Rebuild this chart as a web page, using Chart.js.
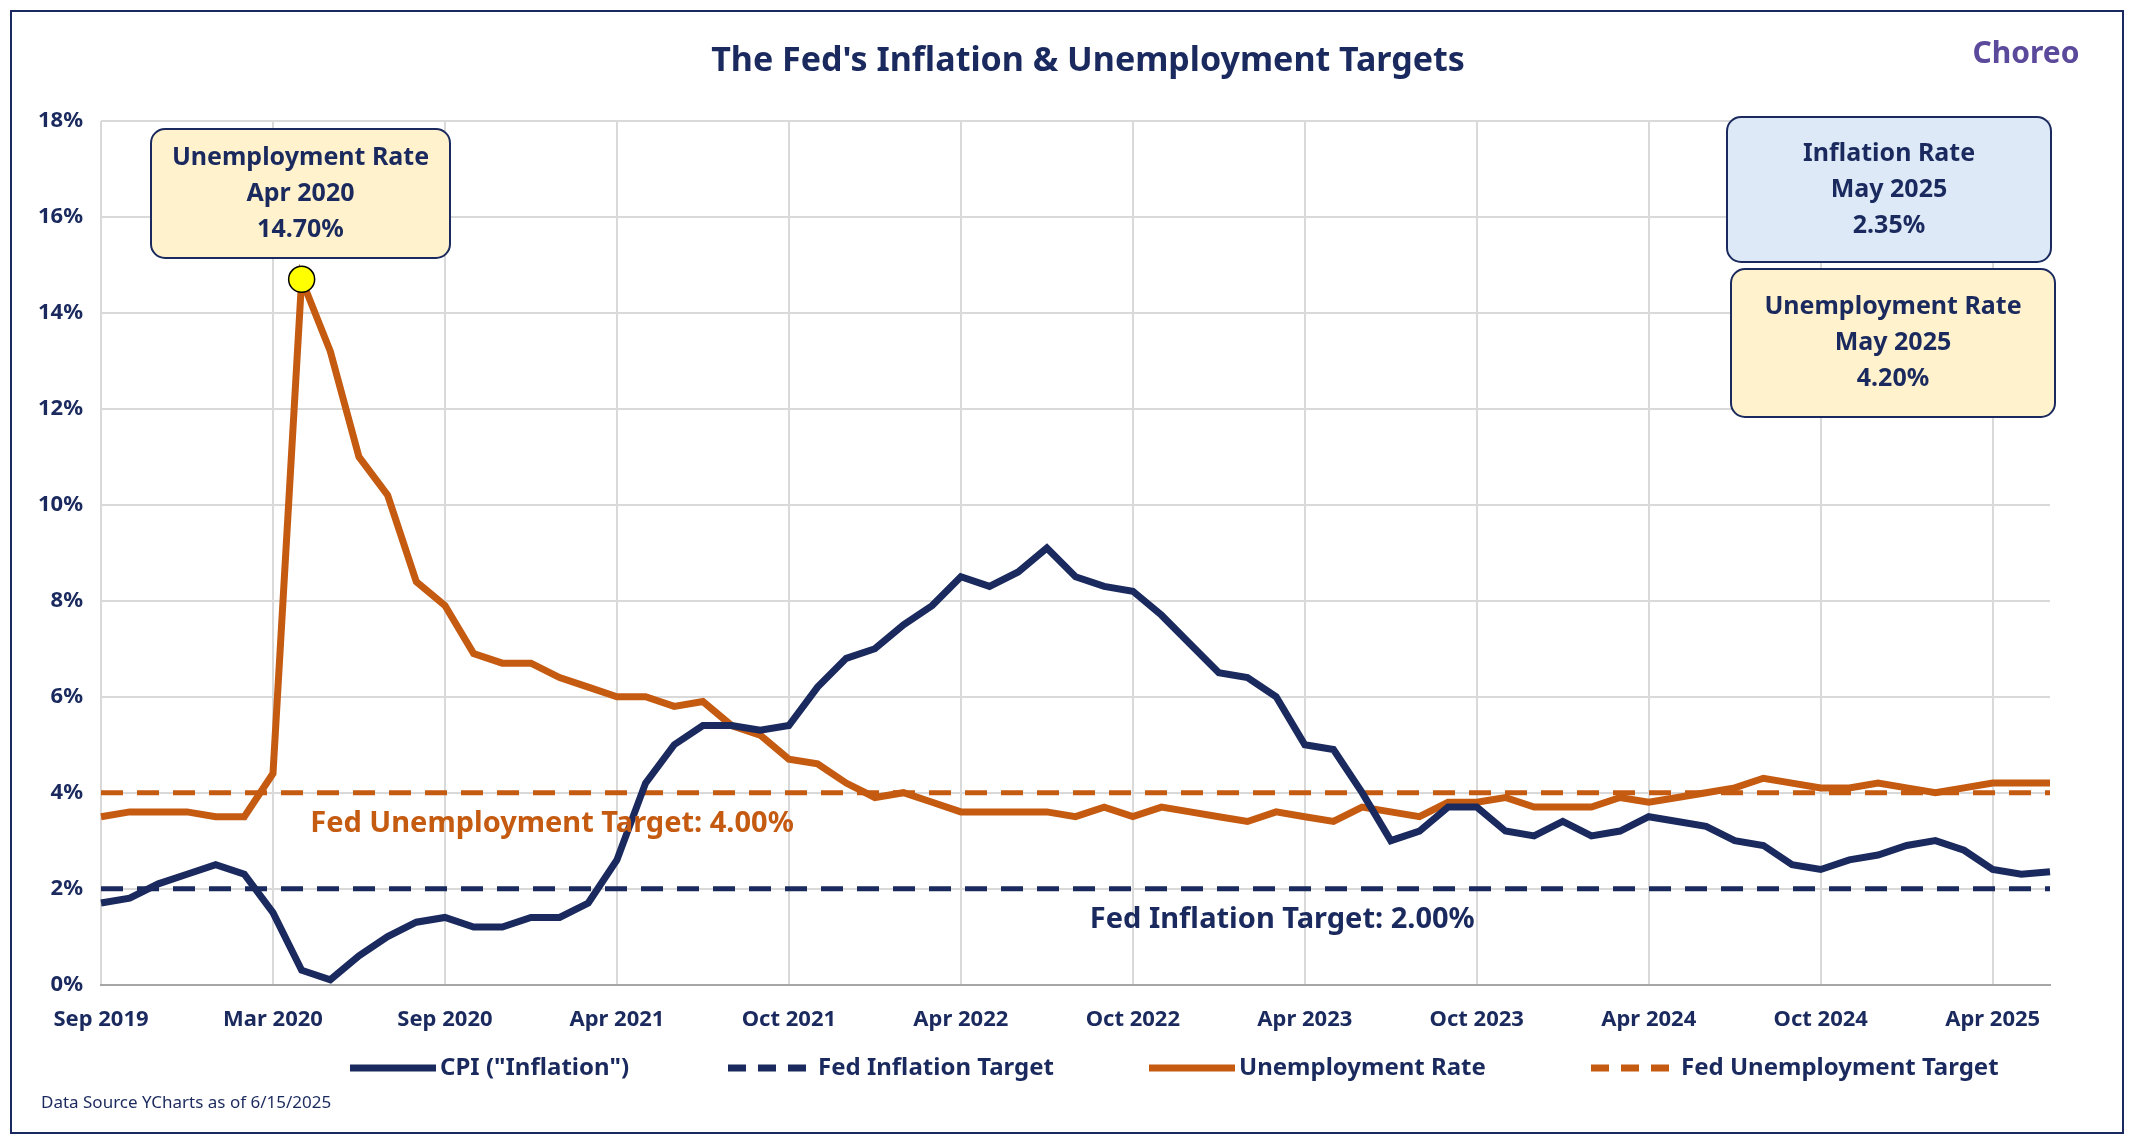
<!DOCTYPE html>
<html lang="en">
<head>
<meta charset="UTF-8">
<title>The Fed's Inflation & Unemployment Targets</title>
<script src="https://cdn.jsdelivr.net/npm/chart.js"></script>
<style>
    html, body { margin: 0; padding: 0; background: #fff; }
    .frame { position: absolute; left: 10px; top: 10px; width: 2110px; height: 1120px; border: 2px solid #1b2a5e; }
    canvas { position: absolute; left: 0; top: 0; }
</style>
</head>
<body>
<div class="frame"></div>
<canvas id="grafico" width="2132" height="1144"></canvas>
<script>
// Monthly, Sep 2019 .. May 2025
const months = [];
const monthNames = ['Jan','Feb','Mar','Apr','May','Jun','Jul','Aug','Sep','Oct','Nov','Dec'];
for (let i = 0; i < 69; i++) {
    const m = (8 + i) % 12, y = 2019 + Math.floor((8 + i) / 12);
    months.push(monthNames[m] + ' ' + y);
}
const tickLabels = ['Sep 2019','Mar 2020','Sep 2020','Apr 2021','Oct 2021','Apr 2022','Oct 2022','Apr 2023','Oct 2023','Apr 2024','Oct 2024','Apr 2025'];

const cpi = [1.7,1.8,2.1,2.3,
    2.5,2.3,1.5,0.3,0.1,0.6,1.0,1.3,1.4,1.2,1.2,1.4,
    1.4,1.7,2.6,4.2,5.0,5.4,5.4,5.3,5.4,6.2,6.8,7.0,
    7.5,7.9,8.5,8.3,8.6,9.1,8.5,8.3,8.2,7.7,7.1,6.5,
    6.4,6.0,5.0,4.9,4.0,3.0,3.2,3.7,3.7,3.2,3.1,3.4,
    3.1,3.2,3.5,3.4,3.3,3.0,2.9,2.5,2.4,2.6,2.7,2.9,
    3.0,2.8,2.4,2.3,2.35];
const unemployment = [3.5,3.6,3.6,3.6,
    3.5,3.5,4.4,14.7,13.2,11.0,10.2,8.4,7.9,6.9,6.7,6.7,
    6.4,6.2,6.0,6.0,5.8,5.9,5.4,5.2,4.7,4.6,4.2,3.9,
    4.0,3.8,3.6,3.6,3.6,3.6,3.5,3.7,3.5,3.7,3.6,3.5,
    3.4,3.6,3.5,3.4,3.7,3.6,3.5,3.8,3.8,3.9,3.7,3.7,
    3.7,3.9,3.8,3.9,4.0,4.1,4.3,4.2,4.1,4.1,4.2,4.1,
    4.0,4.1,4.2,4.2,4.2];
const inflationTarget = months.map(() => 2);
const unemploymentTarget = months.map(() => 4);
const peak = unemployment.map((v, i) => i === 7 ? v : null);

const NAVY = '#1b2a5e';
const ORANGE = '#c55a11';
const FONT = '"Noto Sans", "Open Sans", sans-serif';

// Caixas de texto, legenda e rótulos
const extras = {
    id: 'extras',
    afterDraw(chart) {
        const ctx = chart.ctx;
        const x = chart.scales.x, y = chart.scales.y;
        ctx.save();
        ctx.textAlign = 'center';
        ctx.textBaseline = 'middle';
        ctx.fillStyle = NAVY;
        ctx.font = 'bold 34px ' + FONT;
        ctx.fillText("The Fed's Inflation & Unemployment Targets", 1088, 61);
        ctx.fillStyle = '#5b4a9b';
        ctx.font = 'bold 30px ' + FONT;
        ctx.fillText('Choreo', 2026, 54);

        function box(x0, y0, w, h, fill, lines) {
            ctx.beginPath();
            ctx.roundRect(x0, y0, w, h, 14);
            ctx.fillStyle = fill;
            ctx.fill();
            ctx.lineWidth = 2;
            ctx.strokeStyle = NAVY;
            ctx.stroke();
            ctx.fillStyle = NAVY;
            ctx.font = 'bold 25px ' + FONT;
            const step = 36;
            const cy = y0 + h / 2;
            lines.forEach((t, i) => ctx.fillText(t, x0 + w / 2, cy + (i - 1) * step));
        }
        box(151, 129, 299, 129, '#fff2cc', ['Unemployment Rate', 'Apr 2020', '14.70%']);
        box(1727, 117, 324, 145, '#dde9f6', ['Inflation Rate', 'May 2025', '2.35%']);
        box(1731, 269, 324, 148, '#fff2cc', ['Unemployment Rate', 'May 2025', '4.20%']);

        ctx.font = 'bold 29px ' + FONT;
        ctx.textAlign = 'left';
        ctx.fillStyle = ORANGE;
        ctx.fillText('Fed Unemployment Target: 4.00%', x.getPixelForValue(7.3), y.getPixelForValue(3.35));
        ctx.fillStyle = NAVY;
        ctx.fillText('Fed Inflation Target: 2.00%', x.getPixelForValue(34.5), y.getPixelForValue(1.35));

        // legenda
        const items = [
            { t: 'CPI ("Inflation")', c: NAVY, d: [], x: 350 },
            { t: 'Fed Inflation Target', c: NAVY, d: [18, 12], x: 728 },
            { t: 'Unemployment Rate', c: ORANGE, d: [], x: 1149 },
            { t: 'Fed Unemployment Target', c: ORANGE, d: [18, 12], x: 1591 }
        ];
        ctx.font = 'bold 24px ' + FONT;
        items.forEach(it => {
            ctx.beginPath();
            ctx.setLineDash(it.d);
            ctx.lineWidth = 7;
            ctx.strokeStyle = it.c;
            ctx.moveTo(it.x, 1068);
            ctx.lineTo(it.x + 86, 1068);
            ctx.stroke();
            ctx.setLineDash([]);
            ctx.fillStyle = NAVY;
            ctx.fillText(it.t, it.x + 90, 1068);
        });
        ctx.font = '17px ' + FONT;
        ctx.fillText('Data Source YCharts as of 6/15/2025', 41, 1103);
        ctx.restore();
    }
};

new Chart(document.getElementById('grafico'), {
    type: 'line',
    data: {
        labels: months,
        datasets: [
            { label: 'Peak', data: peak, borderColor: '#000', backgroundColor: '#ffff00', pointRadius: 13, pointBorderWidth: 1.5, showLine: false },
            { label: 'CPI ("Inflation")', data: cpi, borderColor: NAVY, borderWidth: 7, pointRadius: 0, tension: 0 },
            { label: 'Fed Inflation Target', data: inflationTarget, borderColor: NAVY, borderWidth: 5, borderDash: [22, 14], pointRadius: 0 },
            { label: 'Unemployment Rate', data: unemployment, borderColor: ORANGE, borderWidth: 7, pointRadius: 0, tension: 0 },
            { label: 'Fed Unemployment Target', data: unemploymentTarget, borderColor: ORANGE, borderWidth: 5, borderDash: [22, 14], pointRadius: 0 }
        ]
    },
    options: {
        responsive: false,
        animation: false,
        layout: { padding: { left: 20, right: 82, top: 121, bottom: 89 } },
        plugins: { legend: { display: false }, tooltip: { enabled: false } },
        scales: {
            x: {
                offset: false,
                grid: {
                    color: c => (c.index % 6 === 0 ? '#d9d9d9' : 'rgba(0,0,0,0)'),
                    lineWidth: 2, drawTicks: false
                },
                border: { color: '#a6a6a6', width: 2 },
                ticks: {
                    autoSkip: false, maxRotation: 0, padding: 22,
                    color: NAVY, font: { family: FONT, size: 22, weight: 'bold' },
                    callback: (v, i) => (i % 6 === 0 ? tickLabels[i / 6] : '')
                }
            },
            y: {
                min: 0, max: 18,
                grid: { color: '#d9d9d9', lineWidth: 2, drawTicks: false },
                border: { display: false },
                ticks: {
                    stepSize: 2, padding: 18,
                    color: NAVY, font: { family: FONT, size: 22, weight: 'bold' },
                    callback: v => v + '%'
                }
            }
        }
    },
    plugins: [extras]
});
</script>
</body>
</html>
